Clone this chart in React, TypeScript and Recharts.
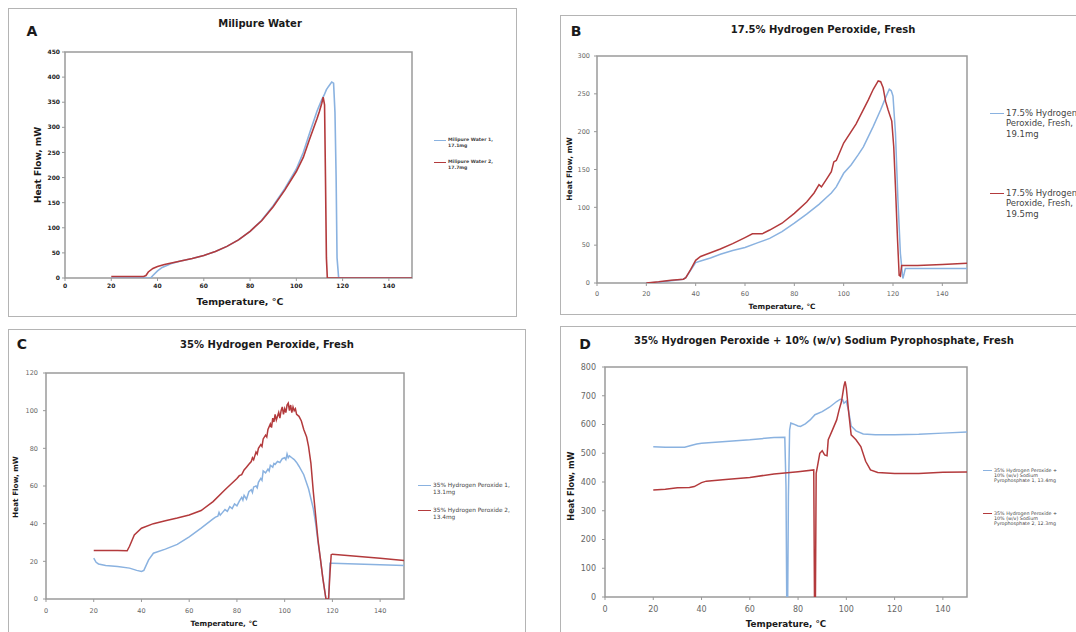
import React from "react";
import { LineChart, Line, XAxis, YAxis, ReferenceArea } from "recharts";

type Pt = [number, number];

// ---------- DATA ----------
const tempTicks = [0, 20, 40, 60, 80, 100, 120, 140];

const waterTicks = [0, 50, 100, 150, 200, 250, 300, 350, 400, 450];
const water1: Pt[] = [[20,0],[37,0],[38,5],[40,14],[42,21],[44,25],[46,29],[50,34],[55,39],[60,45],[65,53],[70,63],[75,76],[80,93],[85,115],[90,144],[95,178],[100,217],[103,250],[106,292],[109,333],[111,355],[112,364],[113,375],[114,382],[115.3,390],[116.1,388],[116.7,330],[117.2,200],[117.6,40],[118.3,0],[150,0]];
const water2: Pt[] = [[20,3],[34,3],[35,5],[36,12],[38,19],[40,23],[43,27],[45,29],[50,34],[55,39],[60,45],[65,53],[70,63],[75,76],[80,93],[85,114],[90,142],[95,175],[100,212],[103,240],[105.6,275],[109,318],[110,332],[111,348],[111.6,360],[112.2,345],[112.6,200],[113,40],[113.4,0],[150,0]];

const h175Ticks = [0, 50, 100, 150, 200, 250, 300];
const h175a: Pt[] = [[20,0],[25,1],[30,3],[35,5],[36,7],[38,17],[40,27],[42,29],[46,33],[50,38],[55,43],[60,47],[65,53],[70,59],[75,68],[80,79],[85,91],[90,104],[93,113],[95,119],[97,127],[100,145],[103,156],[106,170],[108,180],[112,207],[115,229],[117,245],[118.5,256],[119.3,254],[120,247],[121,198],[122,110],[123,39],[124,6],[124.5,12],[125,19],[130,19],[140,19],[150,19]];
const h175b: Pt[] = [[20,0],[25,1.5],[30,3.5],[35,5],[36,7],[38,18],[40,30],[42,35],[46,40],[50,45],[55,52],[60,60],[63,65],[67,65],[70,70],[75,79],[80,92],[85,107],[88,119],[90,130],[91,127],[93,137],[95,147],[96,160],[97,162],[100,185],[105,210],[110,242],[112,256],[114,267],[115,266],[116,258],[117,240],[118,229],[119.5,214],[120.3,180],[121,127],[121.8,60],[122.5,10],[123,9],[123.5,23],[130,23],[140,24.5],[150,26]];

const h35Ticks = [0, 20, 40, 60, 80, 100, 120];
const h35a: Pt[] = [[20,21.7],[21,19.5],[22,18.6],[25,17.8],[30,17.3],[35,16.4],[38,15.2],[40,14.6],[41,15.2],[42,18],[43,20.8],[45,24.3],[50,26.5],[55,29],[60,33],[65,37.6],[70,42.5],[71,43.5],[72,44],[72.5,46],[73,44.5],[74,46],[75,47.5],[76,46.5],[77,49],[78,48],[79,50.5],[80,49.5],[81,52],[82,54],[82.5,52.5],[83,55],[84,53],[85,57],[86,58],[86.5,56.5],[87,59.5],[88,60],[88.5,59],[89,62],[90,64],[90.5,63],[91,68],[92,67],[93,69],[93.5,68],[94,71],[95,70],[95.5,72],[96,71.5],[97,73],[98,72.5],[99,74.5],[100,75],[100.5,74],[101,77],[101.5,75],[102,76],[103,75],[104,74],[105,72.5],[106,70.5],[108,66],[110,58.5],[112,48],[113,40],[114,30],[115,21],[116,11],[117.3,0],[118.4,0],[119,19],[120,19],[130,18.6],[140,18.2],[150,17.8]];
const h35b: Pt[] = [[20,25.7],[25,25.7],[30,25.7],[34,25.6],[35,28],[37,34],[40,37.6],[45,40],[50,41.6],[55,43],[60,44.6],[65,47],[70,51.7],[75,58],[80,64],[81,65.5],[82,66],[83,68.5],[84,70],[85,71.5],[86,73],[86.5,75],[87,74],[88,78],[88.5,77],[89,80],[90,82],[90.5,81],[91,85],[92,87],[92.5,86],[93,90],[94,93],[94.5,91],[95,96],[95.5,94],[96,98],[96.5,95],[97,97],[97.5,99],[98,96],[98.5,100],[99,102],[99.5,98],[100,101],[100.5,99],[101,103],[101.5,104],[102,100],[102.5,103],[103,99],[103.5,102],[104,100],[104.5,101],[105,98],[106,97],[107,94.5],[108,90],[109.2,86],[110,81],[111,72],[112,57],[113,44],[114,31],[115,21],[116,11],[117.3,0],[118.4,0],[119,14],[119.5,23.5],[120,23.8],[130,22.7],[140,21.6],[150,20.5]];

const pyroTicks = [0, 100, 200, 300, 400, 500, 600, 700, 800];
const pyro1: Pt[] = [[20,523],[25,521],[33,521],[36,528],[38,532],[40,535],[50,541],[60,547],[70,555],[74.5,556],[75,384],[75.3,0],[75.7,0],[76,350],[76.5,581],[77,605],[78,602],[80,595],[81,593],[83,602],[85,616],[87,634],[90,645],[93,660],[96,680],[97.5,688],[98.5,686],[99,674],[100,681],[101,645],[102,595],[104,578],[107,567],[112,564],[120,564],[130,566],[140,570],[150,574]];
const pyro2: Pt[] = [[20,372],[25,375],[30,380],[35,381],[37,384],[40,398],[42,403],[50,409],[60,416],[70,428],[80,436],[86.5,442],[86.8,0],[87.2,0],[87.5,430],[88,453],[89,500],[90,509],[91,494],[92,491],[92.5,547],[94,576],[96,616],[97,651],[98,680],[99,733],[99.5,750],[100,727],[101,640],[102,564],[104,547],[106,523],[108,472],[110,442],[113,433],[120,430],[130,430],[140,434],[150,435]];

// ---------- STYLE ----------
const BLUE = "#8ab2e0";
const RED = "#b33a3c";
const FONT = "'DejaVu Sans', Verdana, sans-serif";

type Rect = { l: number; t: number; r: number; b: number };

function toRows(p: Pt[]) {
  return p.map(([t, v]) => ({ t, v }));
}

function Panel(props: {
  plot: Rect;
  yMax: number;
  yTicks: number[];
  s1: Pt[];
  s2: Pt[];
  fontSize: number;
  tickColor: string;
  bold: boolean;
  yGap: number;
  xGap: number;
  sw: number;
}) {
  const { plot, yMax, yTicks, s1, s2, fontSize, tickColor, bold, yGap, xGap, sw } = props;
  const ML = 45, MT = 8, MR = 8, MB = 25;
  const w = plot.r - plot.l + ML + MR;
  const h = plot.b - plot.t + MT + MB;
  const tick = { fontSize, fill: tickColor, fontWeight: bold ? 700 : 400, fontFamily: FONT };
  return (
    <div style={{ position: "absolute", left: plot.l - ML, top: plot.t - MT }}>
      <LineChart width={w} height={h} margin={{ top: MT, right: MR, bottom: 0, left: 0 }}>
        <XAxis
          type="number"
          dataKey="t"
          domain={[0, 150]}
          ticks={tempTicks}
          allowDataOverflow
          height={MB}
          axisLine={false}
          tickLine={{ stroke: "#999" }}
          tickSize={3}
          tickMargin={xGap}
          tick={tick}
          interval={0}
        />
        <YAxis
          type="number"
          domain={[0, yMax]}
          ticks={yTicks}
          allowDataOverflow
          width={ML}
          axisLine={false}
          tickLine={{ stroke: "#999" }}
          tickSize={3}
          tickMargin={yGap}
          tick={tick}
          interval={0}
        />
        <ReferenceArea x1={0} x2={150} y1={0} y2={yMax} fill="none" stroke="#9a9a9a" strokeWidth={1.5} ifOverflow="visible" />
        <Line data={toRows(s1)} dataKey="v" type="linear" stroke={BLUE} strokeWidth={sw} dot={false} isAnimationActive={false} />
        <Line data={toRows(s2)} dataKey="v" type="linear" stroke={RED} strokeWidth={sw} dot={false} isAnimationActive={false} />
      </LineChart>
    </div>
  );
}

function T(props: { x: number; y: number; size: number; bold?: boolean; rotate?: boolean; color?: string; children: React.ReactNode }) {
  const { x, y, size, bold, rotate, color, children } = props;
  return (
    <div
      style={{
        position: "absolute",
        left: x,
        top: y,
        transform: `translate(-50%, -50%)${rotate ? " rotate(-90deg)" : ""}`,
        fontSize: size,
        fontWeight: bold ? 700 : 400,
        color: color || "#1a1a1a",
        whiteSpace: "nowrap",
        fontFamily: FONT,
        lineHeight: 1,
      }}
    >
      {children}
    </div>
  );
}

function Legend(props: { x: number; y: number; lineW: number; color: string; lines: string[]; size: number; lh: number; bold?: boolean }) {
  const { x, y, lineW, color, lines, size, lh, bold } = props;
  return (
    <div style={{ position: "absolute", left: x, top: y - lh / 2 }}>
      <div style={{ position: "absolute", left: 0, top: lh / 2 - 0.5, width: lineW, height: 1.5, background: color }} />
      <div
        style={{
          position: "absolute",
          left: lineW + 2,
          top: 0,
          fontSize: size,
          lineHeight: `${lh}px`,
          fontFamily: FONT,
          fontWeight: bold ? 700 : 400,
          color: "#444",
          whiteSpace: "nowrap",
        }}
      >
        {lines.map((l, i) => (
          <div key={i}>{l}</div>
        ))}
      </div>
    </div>
  );
}

function Box(props: { l: number; t: number; r: number; b: number }) {
  const { l, t, r, b } = props;
  return <div style={{ position: "absolute", left: l, top: t, width: r - l, height: b - t, border: "1.5px solid #b4b4b4", boxSizing: "border-box", background: "#fff" }} />;
}

export default function App() {
  return (
    <div style={{ position: "fixed", left: 0, top: 0, width: 1076, height: 632, overflow: "hidden", background: "#fff", fontFamily: FONT }}>
      <Box l={8} t={8} r={517} b={317} />
      <Box l={560} t={15} r={1090} b={315} />
      <Box l={8} t={329} r={526} b={650} />
      <Box l={560} t={326} r={1090} b={650} />

      {/* Panel A */}
      <T x={32} y={31} size={14} bold>A</T>
      <T x={260} y={24} size={10} bold>Milipure Water</T>
      <Panel plot={{ l: 65, t: 52, r: 412, b: 278 }} yMax={450} yTicks={waterTicks} s1={water1} s2={water2} fontSize={6} tickColor="#222" bold yGap={2} xGap={3} sw={1.6} />
      <T x={38} y={165} size={9} bold rotate>Heat Flow, mW</T>
      <T x={240} y={302} size={9.5} bold>Temperature, °C</T>
      <Legend x={434} y={140} lineW={12} color={BLUE} lines={["Milipure Water 1,", "17.1mg"]} size={4.6} lh={6} bold />
      <Legend x={434} y={162} lineW={12} color={RED} lines={["Milipure Water 2,", "17.7mg"]} size={4.6} lh={6} bold />

      {/* Panel B */}
      <T x={576} y={31} size={14} bold>B</T>
      <T x={823} y={30} size={10} bold>17.5% Hydrogen Peroxide, Fresh</T>
      <Panel plot={{ l: 597, t: 56, r: 967, b: 283 }} yMax={300} yTicks={h175Ticks} s1={h175a} s2={h175b} fontSize={6.5} tickColor="#666" bold={false} yGap={4} xGap={5} sw={1.5} />
      <T x={570} y={169} size={7.5} bold rotate>Heat Flow, mW</T>
      <T x={782} y={307} size={7.3} bold>Temperature, °C</T>
      <Legend x={990} y={113} lineW={14} color={BLUE} lines={["17.5% Hydrogen", "Peroxide, Fresh,", "19.1mg"]} size={8.5} lh={10.5} />
      <Legend x={990} y={193} lineW={14} color={RED} lines={["17.5% Hydrogen", "Peroxide, Fresh,", "19.5mg"]} size={8.5} lh={10.5} />

      {/* Panel C */}
      <T x={22} y={344} size={14} bold>C</T>
      <T x={267} y={345} size={10} bold>35% Hydrogen Peroxide, Fresh</T>
      <Panel plot={{ l: 46, t: 373, r: 404, b: 599 }} yMax={120} yTicks={h35Ticks} s1={h35a} s2={h35b} fontSize={6.5} tickColor="#666" bold={false} yGap={5} xGap={6} sw={1.5} />
      <T x={16} y={487} size={7.3} bold rotate>Heat Flow, mW</T>
      <T x={224} y={624} size={7.3} bold>Temperature, °C</T>
      <Legend x={418} y={485} lineW={13} color={BLUE} lines={["35% Hydrogen Peroxide 1,", "13.1mg"]} size={5.8} lh={7} />
      <Legend x={418} y={510} lineW={13} color={RED} lines={["35% Hydrogen Peroxide 2,", "13.4mg"]} size={5.8} lh={7} />

      {/* Panel D */}
      <T x={585} y={344} size={14} bold>D</T>
      <T x={824} y={341} size={10} bold>35% Hydrogen Peroxide + 10% (w/v) Sodium Pyrophosphate, Fresh</T>
      <Panel plot={{ l: 605, t: 367, r: 967, b: 597 }} yMax={800} yTicks={pyroTicks} s1={pyro1} s2={pyro2} fontSize={8} tickColor="#666" bold={false} yGap={6} xGap={6} sw={1.5} />
      <T x={571} y={486} size={8.2} bold rotate>Heat Flow, mW</T>
      <T x={786} y={624} size={8.8} bold>Temperature, °C</T>
      <Legend x={983} y={470} lineW={9} color={BLUE} lines={["35% Hydrogen Peroxide +", "10% (w/v) Sodium", "Pyrophosphate 1, 13.4mg"]} size={4.8} lh={5} />
      <Legend x={983} y={513} lineW={9} color={RED} lines={["35% Hydrogen Peroxide +", "10% (w/v) Sodium", "Pyrophosphate 2, 12.3mg"]} size={4.8} lh={5} />
    </div>
  );
}
